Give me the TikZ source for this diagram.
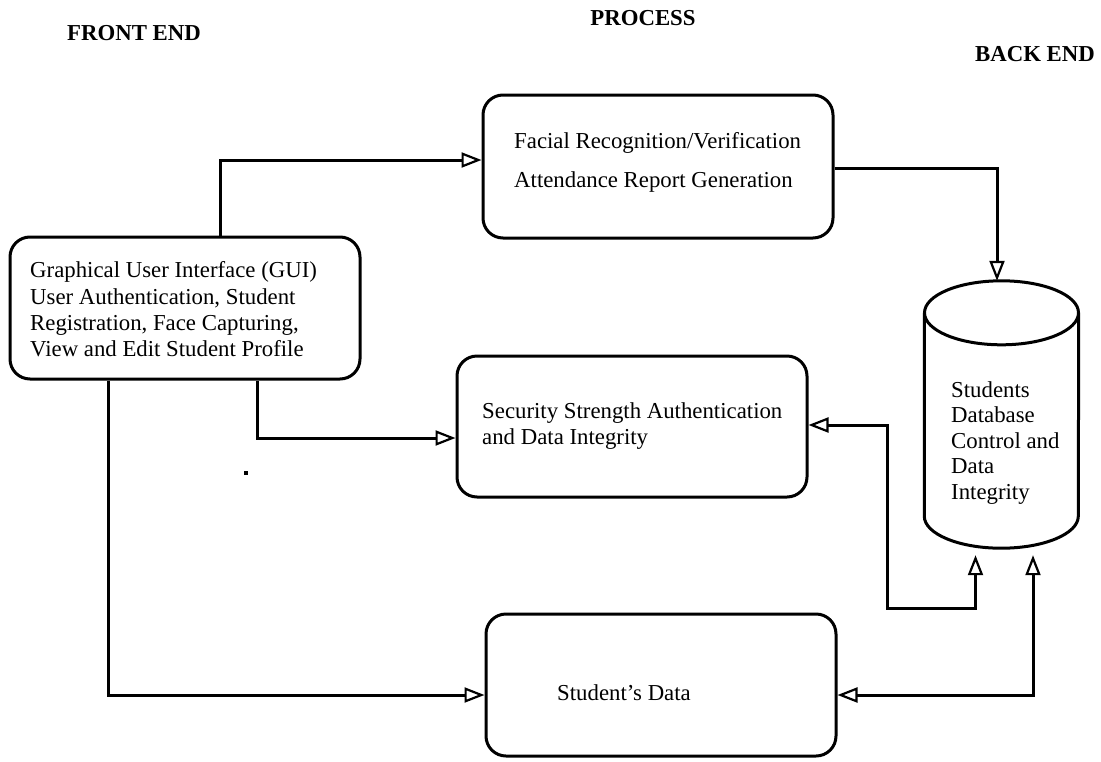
\documentclass[tikz,border=0pt]{standalone}
\usepackage{fontspec}
\setmainfont{Liberation Serif}
\usetikzlibrary{calc,arrows.meta}

\begin{document}
\begin{tikzpicture}[x=1pt,y=-1pt,
    box/.style={draw,line width=3pt,rounded corners=20pt,minimum width=350pt},
    txt/.style={inner sep=0pt,anchor=west,align=left,font=\fontsize{22.8}{26.3}\selectfont},
    head/.style={inner sep=0pt,font=\fontsize{22.8}{26}\selectfont\bfseries},
    tip/.tip={Triangle[open,length=20pt,width=15pt,line width=2.2pt]},
    flow/.style={line width=3pt,-tip},
    bothway/.style={line width=3pt,tip-tip}]
    \useasboundingbox (0,0) rectangle (1101,761) ;
    % headings
    \node (fe) at (134,33) [head] {FRONT END} ;
    \node (pr) at (643,18) [head] {PROCESS} ;
    \node (be) at (1035,54) [head] {BACK END} ;
    % boxes
    \node (gui) at (185,308) [box,minimum height=142pt] {} ;
    \node (fac) at (658,166.5) [box,minimum height=143pt] {} ;
    \node (sec) at (632,426.5) [box,minimum height=141pt] {} ;
    \node (std) at (661,685) [box,minimum height=142pt] {} ;
    \node (db) at (1001.5,414.5) [minimum width=154pt,minimum height=267pt,inner sep=0pt] {} ;
    % cylinder
    \draw[line width=3pt] ($(db.north)+(0,32)$) ellipse (77 and 32) ;
    \draw[line width=3pt] ($(db.north west)+(0,32)$) -- ($(db.south west)+(0,-32)$)
      arc[start angle=180,end angle=360,x radius=77,y radius=-32]
      -- ($(db.north east)+(0,32)$) ;
    % texts
    \node at (30,309.5) [txt] {Graphical User Interface (GUI)\\User Authentication, Student\\Registration, Face Capturing,\\View and Edit Student Profile} ;
    \node at (514,162.5) [txt,font=\fontsize{22.8}{39}\selectfont] {Facial Recognition/Verification\\Attendance Report Generation} ;
    \node at (482,426) [txt] {Security Strength Authentication\\and Data Integrity} ;
    \node at (557,693) [txt] {Student's Data} ;
    \node at (951,443) [txt,font=\fontsize{22.8}{25.5}\selectfont] {Students\\Database\\Control and\\Data\\Integrity} ;
    \fill (244,471) rectangle (248,475) ;
    % connectors
    \coordinate (bend) at (887,608) ;
    \draw[flow] ([xshift=35pt]gui.north) |- ([yshift=6.5pt]fac.west) ;
    \draw[flow] ([yshift=-2pt]fac.east) -| ([xshift=-4.5pt]db.north) ;
    \draw[flow] ([xshift=72pt]gui.south) |- ([yshift=-11.5pt]sec.west) ;
    \draw[flow] ([xshift=-77pt]gui.south) |- ([yshift=-10pt]std.west) ;
    \draw[bothway] ([yshift=1.5pt]sec.east) -| (bend) -| ([xshift=-26pt,yshift=-7pt]db.south) ;
    \draw[bothway] ([yshift=-10pt]std.east) -| ([xshift=31.5pt,yshift=-7pt]db.south) ;
  \end{tikzpicture}
\end{document}
